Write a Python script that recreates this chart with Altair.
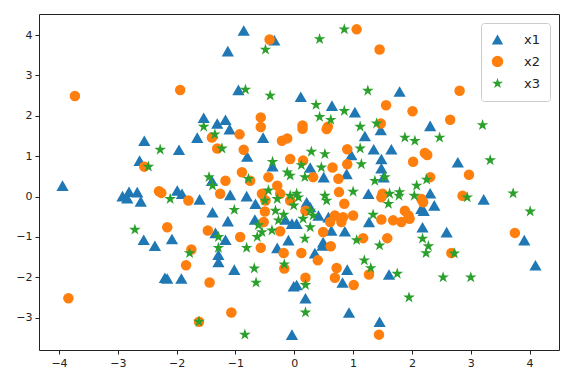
import altair as alt
import pandas as pd

# series x1 (triangles)
x1_x = [-0.86, -0.34, -1.13, -0.95, -1.54, -1.31, -1.17, 0.11, 1.79, 0.64, 1.03, 2.31,
        -2.55, -2.63, -3.94, -2.92, -2.81, -2.84, -2.67, -2.61, -2.56, -2.37, -2.20,
        -1.29, -1.29, -0.29, -2.16, -1.92, -1.02, -0.01, -0.04,
        0.35, 0.48, 0.90, 0.82, 1.61, 0.04, 0.19, 0.93, 1.45, 4.10, 3.91,
        2.78, 2.31, 3.22, 2.38, 2.20, 2.18, 2.59,
        -1.10, -1.65, -0.53, -1.96, -0.80, -0.37, -1.40, -1.99, -1.91, -1.61, -1.09, -0.81,
        -0.66, -1.39, -1.13, -0.67, -0.15, -0.04, -1.34, -1.17, -2.08, -0.10,
        1.20, 1.47, 1.35, 1.65, 0.97, 1.48, 1.48, 0.27, 0.89, 0.50, 1.52, 1.26, 0.21, 0.27,
        2.16, 0.41, 0.58, 1.27, 0.04, 0.63, 0.86, 0.49]
x1_y = [4.11, 3.87, 3.60, 2.64, 1.95, 1.81, 1.90, 2.47, 2.60, 2.25, 2.09, 1.75,
        1.38, 0.89, 0.27, 0.01, 0.12, -0.04, 0.11, -0.12, -1.07, -1.22, -2.01,
        -1.44, -1.62, -1.27, -2.03, -2.03, -1.81, -2.22, -3.42,
        -1.40, -1.21, -1.81, -2.13, -1.93, -2.19, -2.52, -2.87, -3.10, -1.70, -1.08,
        0.85, 0.08, -0.07, -0.22, -0.35, -0.76, -0.88,
        1.67, 1.46, 1.46, 1.16, 0.99, 0.75, 0.39, 0.15, 0.07, -0.07, 0.04, 0.01,
        -0.18, -0.39, -0.61, -0.57, -0.57, -0.67, -0.90, -1.07, -1.05, -1.08,
        1.50, 1.65, 1.17, 1.17, 1.03, 0.93, 0.70, 0.72, 0.56, 0.48, 0.48, 0.07, -0.14, -0.26,
        -0.30, -0.47, -0.51, -0.63, -0.67, -0.84, -0.86, -1.13]

# series x2 (circles)
x2_x = [-3.73, -0.42, -1.94, -0.57, 1.06, 1.45, 1.56, 2.01, 0.14, 0.57, 1.47, 2.81, 2.65,
        -2.55, -2.30, -2.26, -2.16, -3.84,
        -1.75, -0.57, -0.18, -0.17, -1.84, -1.44, -1.07, -1.62,
        0.12, 0.62, 0.40, 0.72, 0.69, 1.01, 1.27, 0.19, 1.44, 2.67,
        2.22, 2.26, 2.97, 2.31, 2.86, 2.16, 3.75,
        -0.93, -0.57, -1.40, -0.21, -0.12, -1.31, -0.86, -0.07, -0.89, -0.75, -1.17, -0.44,
        -0.29, -1.80, -1.26, -0.55, -0.24, -0.49, -0.07, -0.50, -1.47, -0.92, -0.52, -0.24,
        0.14, 0.55, 0.90, 2.02, 0.15, 0.65, 0.90, 0.32, 0.75, 0.76, 1.50, 1.48, 0.85, 0.19,
        1.88, 1.94, 2.19, 0.69, 0.83, 1.00, 0.61, 0.80, 1.48, 1.68, 1.82, 1.96, 0.49, 1.17, 1.58]
x2_y = [2.49, 3.89, 2.64, 1.96, 4.14, 3.64, 2.26, 2.11, 1.76, 1.73, 1.81, 2.62, 1.90,
        0.74, 0.13, 0.09, -0.76, -2.52,
        -1.31, -1.27, -1.40, -1.78, -1.70, -2.13, -2.87, -3.10,
        -1.40, -1.23, -1.58, -1.77, -2.01, -2.19, -1.93, -2.01, -3.42, -1.40,
        1.08, 1.03, 0.54, 0.48, 0.02, -0.06, -0.90,
        1.54, 1.72, 1.46, 1.38, 1.44, 1.19, 1.16, 0.93, 0.60, 0.39, 0.39, 0.48,
        0.27, -0.10, 0.07, 0.07, 0.07, -0.10, -0.10, -0.37, -0.84, -1.00, -0.63, -0.86,
        1.68, 1.67, 1.17, 0.86, 0.89, 0.72, 0.80, 0.48, 0.44, 0.11, 0.07, -0.02, -0.18, -0.35,
        -0.35, -0.47, -0.14, -0.47, -0.51, -0.47, -0.63, -0.63, -0.57, -0.59, -0.63, -0.55, -0.88, -1.03, -1.03]

# series x3 (stars)
x3_x = [-0.49, -0.83, -0.41, -1.54, 0.85, 0.43, 1.25, 0.37, 0.85, 0.43, 0.62, 1.12, 1.40, 3.20,
        -2.28, -2.48, -2.71,
        -1.78, -1.29, -0.81, -0.17, -0.68, -0.65, -1.62, -0.84,
        1.19, 1.30, 1.75, 0.19, 0.19, 1.95, 1.06, 1.45,
        2.28, 2.24, 2.72, 2.53, 3.00,
        2.47, 3.33, 2.25, 2.94, 3.72, 4.01, 2.18,
        -1.35, -1.23, -0.37, -0.78, -1.45, -1.39, -0.12, -0.07, -2.11, -0.44, -0.50, -0.29,
        -0.07, -0.01, -0.32, -0.18, -0.27, -1.02, -1.29, -0.61, -0.55, -0.63, -0.38,
        1.88, 2.05, 1.12, 0.29, 0.52, 0.12, 0.46, 1.14, 0.18, 1.37, 1.54, 2.08, 1.00, 1.62,
        1.79, 1.78, 2.04, 1.60, 0.04, 0.07, 0.27, 0.52, 0.55, 0.32, 0.15, 0.27, 1.34, 0.18]
x3_y = [3.64, 2.65, 2.50, 1.73, 4.14, 3.90, 2.62, 2.27, 2.12, 1.97, 1.90, 1.73, 1.81, 1.77,
        1.16, 0.74, -0.82,
        -1.40, -1.27, -1.27, -1.68, -1.78, -2.13, -3.10, -3.42,
        -1.58, -1.77, -1.91, -2.19, -2.87, -2.50, -1.08, -1.21,
        -1.23, -1.40, -1.41, -2.00, -2.00,
        1.46, 0.90, 0.42, -0.02, 0.08, -0.37, -1.04,
        1.54, 1.19, 0.86, 0.44, 0.48, 0.27, 0.60, 0.52, -0.06, 0.15, -0.10, -0.06,
        0.02, -0.22, -0.35, -0.45, -0.59, -0.33, -1.00, -0.71, -0.88, -1.00, -0.84,
        1.46, 1.38, 1.19, 1.11, 1.05, 0.78, 0.72, 0.80, 0.48, 0.39, 0.48, 0.27, 0.12, 0.07,
        0.11, 0.02, 0.02, -0.18, 0.07, -0.02, -0.35, 0.02, -0.10, -0.47, -0.55, -0.76, -0.45, -1.04]

series = ["x1", "x2", "x3"]
colors = ["#1f77b4", "#ff7f0e", "#2ca02c"]
STAR = ("M0,-1L0.2245,-0.309L0.951,-0.309L0.363,0.118L0.588,0.809L0,0.382"
        "L-0.588,0.809L-0.363,0.118L-0.951,-0.309L-0.2245,-0.309Z")
shapes = ["triangle-up", "circle", STAR]
marker_area = {"x1": 150, "x2": 110, "x3": 150}

rows = []
for name, xs, ys in [("x1", x1_x, x1_y), ("x2", x2_x, x2_y), ("x3", x3_x, x3_y)]:
    for a, b in zip(xs, ys):
        rows.append({"x": a, "y": b, "series": name, "sz": marker_area[name]})
df = pd.DataFrame(rows)

chart = alt.Chart(df).mark_point(filled=True, opacity=1, strokeWidth=0).encode(
    x=alt.X("x:Q", scale=alt.Scale(domain=[-4.34, 4.50], nice=False, zero=False),
            axis=alt.Axis(values=[-4, -3, -2, -1, 0, 1, 2, 3, 4], title=None, grid=False)),
    y=alt.Y("y:Q", scale=alt.Scale(domain=[-3.80, 4.52], nice=False, zero=False),
            axis=alt.Axis(values=[-3, -2, -1, 0, 1, 2, 3, 4], title=None, grid=False)),
    color=alt.Color("series:N", scale=alt.Scale(domain=series, range=colors),
                    legend=alt.Legend(title=None, orient="top-right", offset=9)),
    shape=alt.Shape("series:N", scale=alt.Scale(domain=series, range=shapes)),
    size=alt.Size("sz:Q", scale=None, legend=None),
).properties(
    width=520, height=336,
    autosize=alt.AutoSizeParams(type="none"),
    padding={"left": 31, "top": 6, "right": 4, "bottom": 20},
).configure_view(
    stroke="#222", strokeWidth=1
).configure_axis(
    domain=False, tickColor="#222", tickSize=4, labelFont="DejaVu Sans",
    labelFontSize=11, labelColor="#222", labelPadding=3
).configure_legend(
    strokeColor="#cccccc", fillColor="white", cornerRadius=3, padding=10,
    labelFont="DejaVu Sans", labelFontSize=13, labelColor="#222",
    symbolSize=130, rowPadding=8, labelOffset=20, symbolOpacity=1, symbolStrokeWidth=0
)

chart.save("out.html", embed_options={"renderer": "svg", "actions": False})
